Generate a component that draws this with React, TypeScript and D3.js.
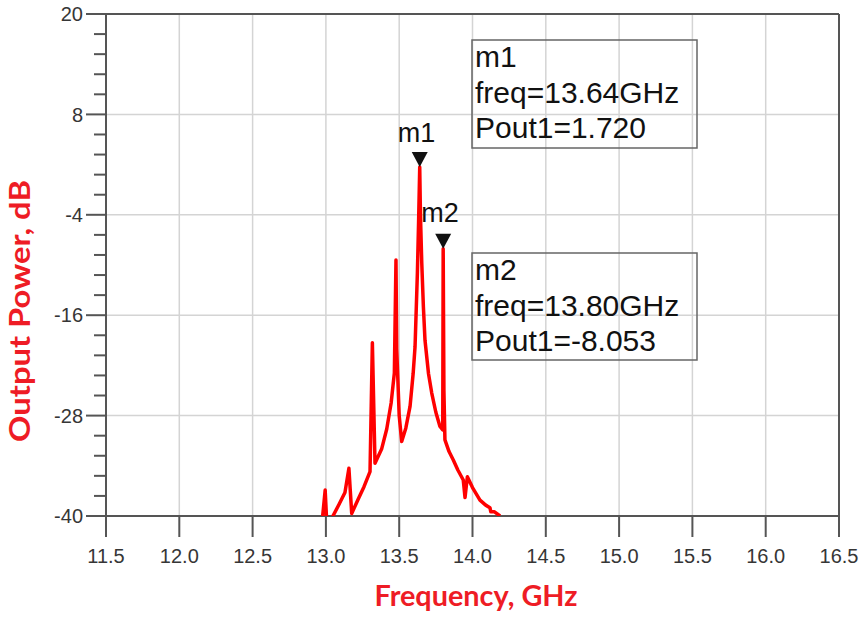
import React from "react";
import * as d3 from "d3";

// ---- data ----
const freqGHz = [
  12.978, 12.995, 13.005, 13.02, 13.048, 13.09, 13.13, 13.157, 13.176,
  13.22, 13.26, 13.301, 13.317, 13.335, 13.38, 13.415, 13.445, 13.467,
  13.478, 13.483, 13.5, 13.517, 13.545, 13.574, 13.595, 13.608, 13.624,
  13.632, 13.64, 13.645, 13.654, 13.665, 13.676, 13.7, 13.722, 13.75,
  13.778, 13.797, 13.8, 13.805, 13.812, 13.84, 13.869, 13.9, 13.937,
  13.949, 13.965, 14.0, 14.051, 14.09, 14.119, 14.125, 14.15, 14.188,
];
const poutDb = [
  -40, -36.9, -40.5, -42, -40, -38.6, -37.2, -34.3, -39.7,
  -38.0, -36.5, -34.7, -19.3, -33.7, -32.0, -29.6, -26.5, -22.9,
  -9.4, -20, -28, -31.1, -29.5, -26.9, -23, -19.8, -11,
  -5, 1.72, -4, -9.8, -15, -19, -23, -25.3, -27.6,
  -29.3, -29.7, -8.053, -25, -30.9, -32.3, -33.3, -34.5, -35.7,
  -37.8, -35.3, -36.6, -38.1, -38.7, -39.0, -39.5, -39.5, -40,
];
const xTicks = [11.5, 12.0, 12.5, 13.0, 13.5, 14.0, 14.5, 15.0, 15.5, 16.0, 16.5];
const yTicks = [-40, -28, -16, -4, 8, 20];
const markerNames = ["m1", "m2"];
const markerFreq = [13.64, 13.8];
const markerPout = [1.72, -8.053];
const xTitle = "Frequency, GHz";
const yTitle = "Output Power, dB";

export default function App() {
  const W = 865, H = 619;
  const L = 106, R = 839, T = 14, B = 516;
  const x = d3.scaleLinear().domain([11.5, 16.5]).range([L, R]);
  const y = d3.scaleLinear().domain([-40, 20]).range([B, T]);
  const minor: number[] = [];
  for (let i = 0; i < yTicks.length - 1; i++) {
    for (let k = 1; k < 5; k++) minor.push(yTicks[i] + (k * 12) / 5);
  }
  const pts = freqGHz.map((f, i) => [f, poutDb[i]] as [number, number]);
  const line = d3
    .line<[number, number]>()
    .x((d) => x(d[0]))
    .y((d) => y(d[1]))
    .curve(d3.curveLinear);

  const tickFont = "'Liberation Sans', Arial, sans-serif";
  const tickColor = "#363636";
  const boxes = [
    { x: 472, y: 40, w: 225, h: 108 },
    { x: 472, y: 253, w: 225, h: 107 },
  ];
  const markerLabelPos = [
    { dx: -22, dy: -25 },
    { dx: -22, dy: -27 },
  ];

  return (
    <svg
      width={W}
      height={H}
      style={{ position: "absolute", left: 0, top: 0, background: "#fff" }}
    >
      <defs>
        <clipPath id="plotclip">
          <rect x={L} y={T} width={R - L} height={B - T} />
        </clipPath>
      </defs>
      <rect x={0} y={0} width={W} height={H} fill="#fff" />
      {/* grid */}
      {xTicks.slice(1, -1).map((t) => (
        <line key={"gx" + t} x1={x(t)} x2={x(t)} y1={T} y2={B} stroke="#d4d4d4" strokeWidth={1.5} />
      ))}
      {yTicks.slice(1, -1).map((t) => (
        <line key={"gy" + t} x1={L} x2={R} y1={y(t)} y2={y(t)} stroke="#d4d4d4" strokeWidth={1.5} />
      ))}
      {/* frame */}
      <line x1={L} x2={R} y1={T} y2={T} stroke="#555" strokeWidth={2} />
      <line x1={L} x2={R} y1={B} y2={B} stroke="#555" strokeWidth={2} />
      <line x1={L} x2={L} y1={T} y2={B} stroke="#555" strokeWidth={2} />
      <line x1={R} x2={R} y1={T} y2={B} stroke="#555" strokeWidth={2} />
      {/* x ticks */}
      {xTicks.map((t) => (
        <g key={"xt" + t}>
          <line x1={x(t)} x2={x(t)} y1={B} y2={B + 21} stroke="#555" strokeWidth={2} />
          <text
            x={x(t)}
            y={563}
            textAnchor="middle"
            fontFamily={tickFont}
            fontSize={20}
            fill={tickColor}
          >
            {t.toFixed(1)}
          </text>
        </g>
      ))}
      {/* y ticks */}
      {yTicks.map((t) => (
        <g key={"yt" + t}>
          <line x1={L - 20} x2={L} y1={y(t)} y2={y(t)} stroke="#555" strokeWidth={2} />
          <text
            x={83}
            y={y(t)}
            dy="0.36em"
            textAnchor="end"
            fontFamily={tickFont}
            fontSize={20}
            fill={tickColor}
          >
            {t}
          </text>
        </g>
      ))}
      {minor.map((t) => (
        <line key={"ym" + t} x1={L - 12} x2={L} y1={y(t)} y2={y(t)} stroke="#555" strokeWidth={2} />
      ))}
      {/* curve */}
      <path
        d={line(pts) || ""}
        fill="none"
        stroke="#ff0000"
        strokeWidth={3.5}
        strokeLinejoin="round"
        clipPath="url(#plotclip)"
      />
      {/* markers */}
      {markerNames.map((m, i) => {
        const mx = x(markerFreq[i]);
        const my = y(markerPout[i]);
        return (
          <g key={m}>
            <path d={`M${mx - 8},${my - 15}L${mx + 8},${my - 15}L${mx},${my}Z`} fill="#111" />
            <text
              x={mx + markerLabelPos[i].dx}
              y={my + markerLabelPos[i].dy}
              fontFamily={tickFont}
              fontSize={27}
              fill="#111"
            >
              {m}
            </text>
          </g>
        );
      })}
      {/* marker boxes */}
      {markerNames.map((m, i) => {
        const b = boxes[i];
        const lines = [m, `freq=${markerFreq[i].toFixed(2)}GHz`, `Pout1=${markerPout[i].toFixed(3)}`];
        return (
          <g key={"box" + m}>
            <rect x={b.x} y={b.y} width={b.w} height={b.h} fill="none" stroke="#666" strokeWidth={1.5} />
            {lines.map((s, j) => (
              <text
                key={j}
                x={b.x + 3}
                y={b.y + 27 + j * 35.5}
                fontFamily={tickFont}
                fontSize={30}
                fill="#111"
              >
                {s}
              </text>
            ))}
          </g>
        );
      })}
      {/* axis titles */}
      <text
        x={476}
        y={606}
        textAnchor="middle"
        fontFamily="Lato, 'Open Sans', sans-serif"
        fontWeight="bold"
        fontSize={28}
        fill="#ee1c25"
        textLength={203}
        lengthAdjust="spacingAndGlyphs"
      >
        {xTitle}
      </text>
      <text
        transform="translate(30,311) rotate(-90)"
        textAnchor="middle"
        fontFamily="Lato, 'Open Sans', sans-serif"
        fontWeight="bold"
        fontSize={28}
        fill="#ee1c25"
        textLength={262}
        lengthAdjust="spacingAndGlyphs"
      >
        {yTitle}
      </text>
    </svg>
  );
}
